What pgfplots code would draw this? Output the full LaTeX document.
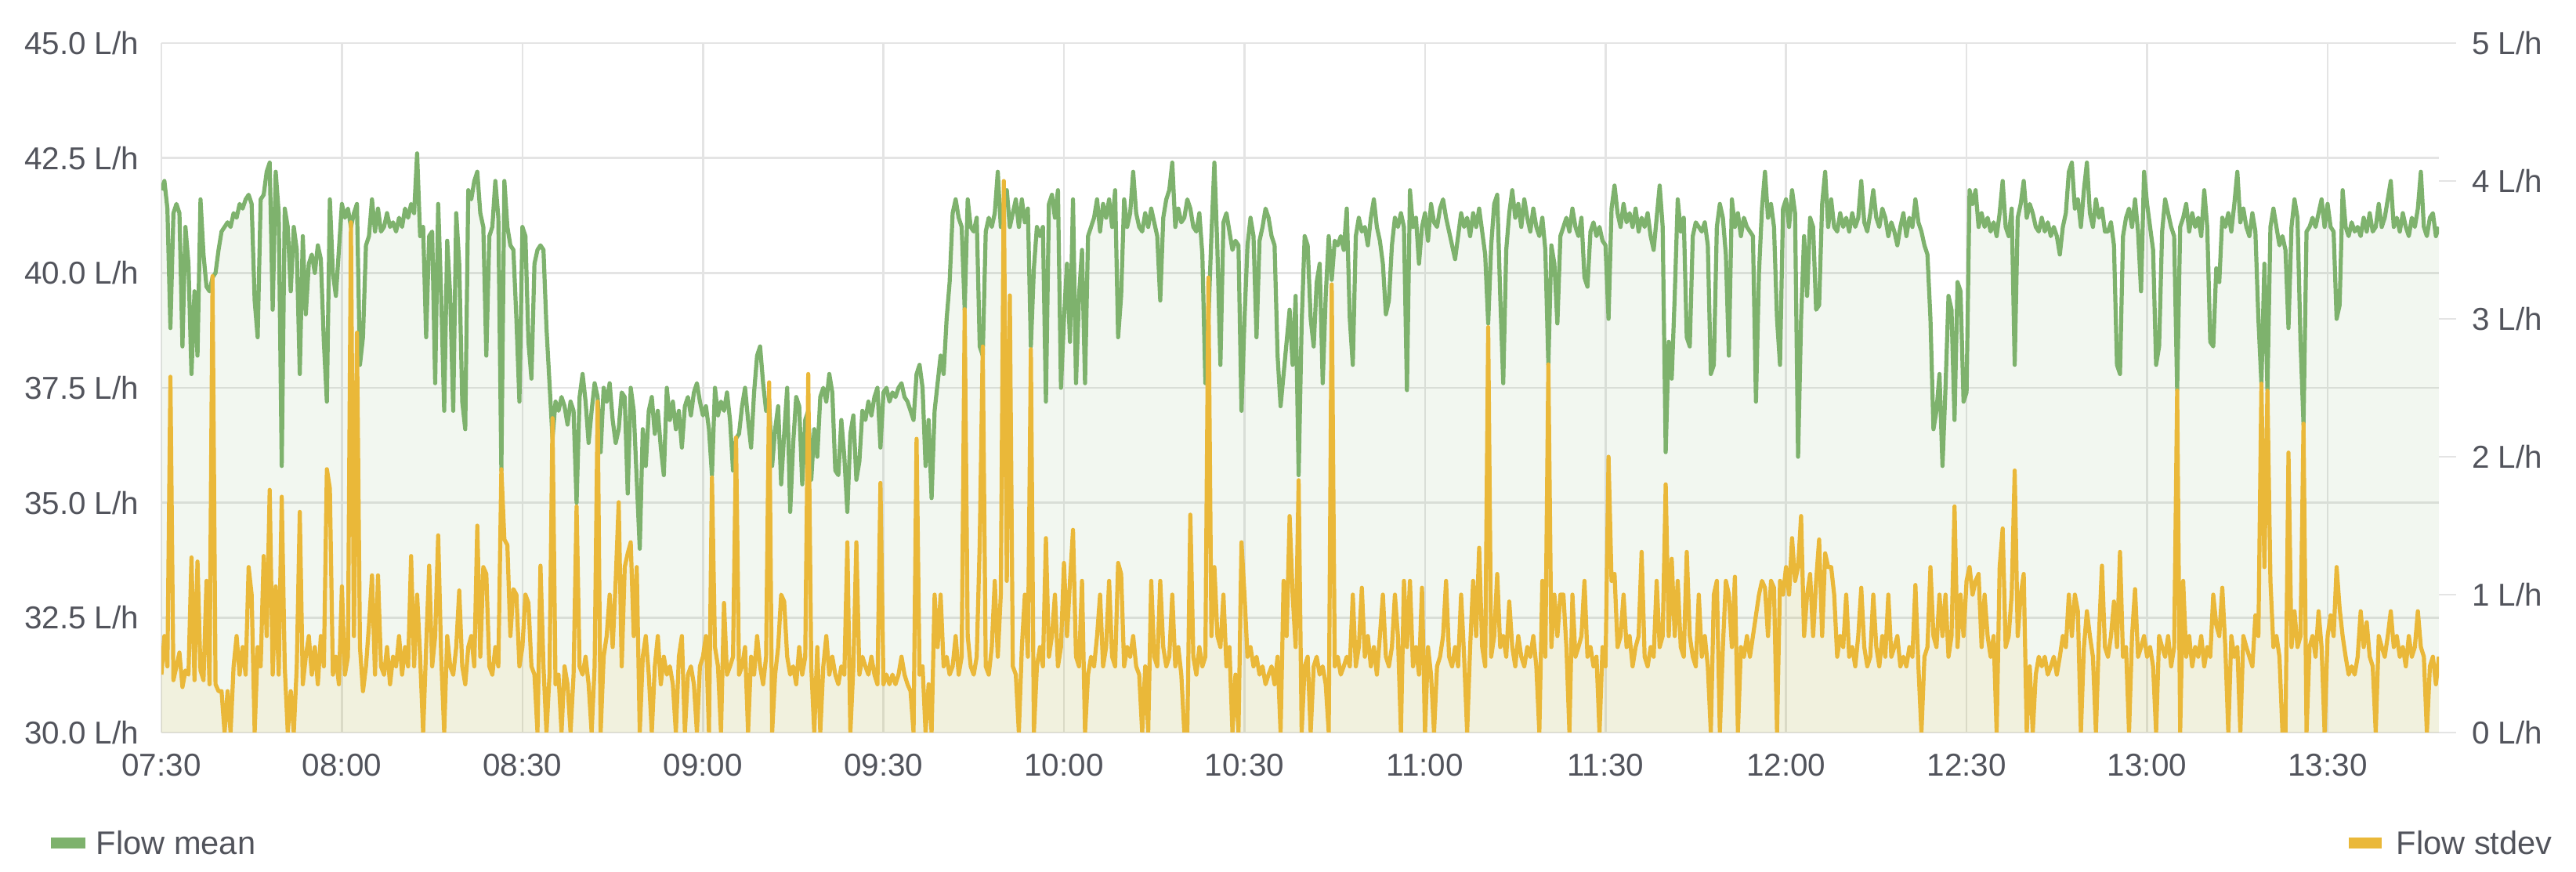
\documentclass[border=0pt]{standalone}
\usepackage{pgfplots}
\pgfplotsset{compat=1.18}
\usepackage{pgfplotstable}
\usepackage{fontspec}
\setmainfont{Liberation Sans}
\definecolor{gmean}{HTML}{7EB26D}
\definecolor{gsd}{HTML}{EAB839}
\definecolor{txt}{HTML}{52545C}
\definecolor{grd}{HTML}{E4E4E4}
\newcommand\lbl{\fontsize{10.1bp}{12bp}\selectfont}
\newcommand\lgd{\fontsize{10.4bp}{12bp}\selectfont}
\pgfplotstableread{
t m s
0 41.8 0.42
0.5 42.0 0.7
1 41.4 0.48
1.5 38.8 2.58
2 41.3 0.38
2.5 41.5 0.48
3 41.3 0.58
3.5 38.4 0.33
4 41.0 0.45
4.5 40.2 0.42
5 37.8 1.27
5.5 39.6 0.38
6 38.2 1.24
6.5 41.6 0.45
7 40.4 0.38
7.5 39.7 1.1
8 39.6 0.35
8.5 39.9 3.31
9 40.0 0.35
9.5 40.5 0.3
10 40.9 0.3
10.5 41.0 0
11 41.1 0.3
11.5 41.0 0
12 41.3 0.48
12.5 41.2 0.7
13 41.5 0.42
13.5 41.4 0.62
14 41.6 0.42
14.5 41.7 1.2
15 41.5 1.0
15.5 39.4 0
16 38.6 0.62
16.5 41.6 0.48
17 41.7 1.28
17.5 42.2 0.7
18 42.4 1.76
18.5 39.2 0.42
19 42.2 1.06
19.5 41.3 0.42
20 35.8 1.71
20.5 41.4 0.48
21 41.0 0
21.5 39.6 0.3
22 41.0 0
22.5 40.5 0.48
23 37.8 1.6
23.5 40.8 0.35
24 39.1 0.55
24.5 40.2 0.7
25 40.4 0.42
25.5 40.0 0.62
26 40.6 0.35
26.5 40.3 0.7
27 38.5 0.48
27.5 37.2 1.91
28 41.6 1.77
28.5 40.0 0.42
29 39.5 0.55
29.5 40.5 0.35
30 41.5 1.06
30.5 41.2 0.42
31 41.4 0.55
31.5 41.0 3.7
32 41.3 0.7
32.5 41.5 2.9
33 38.0 0.62
33.5 38.6 0.3
34 40.6 0.48
34.5 40.8 0.78
35 41.6 1.14
35.5 40.9 0.42
36 41.4 1.14
36.5 40.9 0.48
37 41.0 0.42
37.5 41.3 0.62
38 41.0 0.35
38.5 41.1 0.55
39 40.9 0.48
39.5 41.2 0.7
40 41.0 0.42
40.5 41.4 0.62
41 41.2 0.48
41.5 41.5 1.28
42 41.3 0.48
42.5 42.6 1.0
43 40.8 0.55
43.5 41.0 0
44 38.6 0.62
44.5 40.8 1.21
45 40.9 0.48
45.5 37.6 0.7
46 41.5 1.43
46.5 39.5 0.55
47 37.0 0
47.5 40.7 0.7
48 39.5 0.48
48.5 37.0 0.42
49 41.3 0.62
49.5 40.2 1.03
50 37.2 0.48
50.5 36.6 0.35
51 41.8 0.62
51.5 41.6 0.7
52 42.0 0.48
52.5 42.2 1.5
53 41.3 0.55
53.5 41.0 1.2
54 38.2 1.15
54.5 40.8 0.48
55 41.0 0.42
55.5 42.0 0.62
56 41.2 0.48
56.5 35.7 1.91
57 42.0 1.4
57.5 41.0 1.36
58 40.6 0.7
58.5 40.5 1.04
59 39.0 1.0
59.5 37.2 0.48
60 41.0 0.62
60.5 40.8 1.0
61 38.5 0.94
61.5 37.7 0.48
62 40.2 0.42
62.5 40.5 0
63 40.6 1.21
63.5 40.5 0.48
64 38.8 0
64.5 37.6 0.42
65 36.4 2.28
65.5 37.2 0.35
66 37.0 0.42
66.5 37.3 0
67 37.1 0.48
67.5 36.7 0.35
68 37.2 0
68.5 37.0 0.42
69 35.0 1.64
69.5 37.3 0.48
70 37.8 0.42
70.5 37.2 0.55
71 36.3 0.35
71.5 37.0 0
72 37.6 0.48
72.5 37.3 2.4
73 36.1 0
73.5 37.5 0.55
74 37.2 0.7
74.5 37.6 1.0
75 36.8 0.62
75.5 36.3 1.1
76 36.6 1.67
76.5 37.4 0.48
77 37.3 1.2
77.5 35.2 1.3
78 37.5 1.38
78.5 37.0 0.7
79 35.5 1.2
79.5 34.0 0
80 36.6 0.55
80.5 35.8 0.7
81 37.0 0.42
81.5 37.3 0
82 36.5 0.48
82.5 37.0 0.7
83 36.2 0.35
83.5 35.6 0.55
84 37.5 0.42
84.5 36.8 0.48
85 37.2 0.35
85.5 36.6 0
86 37.0 0.55
86.5 36.2 0.7
87 37.1 0
87.5 37.3 0.42
88 36.9 0.48
88.5 37.4 0.35
89 37.6 0
89.5 37.2 0.48
90 36.9 0.55
90.5 37.1 0.7
91 36.6 0
91.5 35.6 1.85
92 37.5 0.62
92.5 36.9 0.48
93 37.2 0
93.5 37.0 0.94
94 37.4 0.42
94.5 36.8 0.48
95 35.7 0.55
95.5 36.4 2.14
96 36.5 0.42
96.5 37.1 0.48
97 37.5 0.62
97.5 36.8 0
98 36.2 0.55
98.5 37.4 0.42
99 38.2 0.7
99.5 38.4 0.48
100 37.6 0.35
100.5 37.0 0.55
101 37.2 2.54
101.5 35.8 0
102 36.6 0.42
102.5 37.1 0.62
103 35.4 1.0
103.5 36.5 0.95
104 37.5 0.55
104.5 34.8 0.42
105 36.3 0.48
105.5 37.3 0.35
106 37.1 0.62
106.5 35.4 0.42
107 36.8 0.55
107.5 37.0 2.6
108 35.5 0.48
108.5 36.6 0
109 36.0 0.62
109.5 37.3 0
110 37.5 0.48
110.5 37.2 0.7
111 37.8 0.42
111.5 37.4 0.55
112 35.7 0.42
112.5 35.6 0.35
113 36.8 0.48
113.5 36.0 0.42
114 34.8 1.38
114.5 36.5 0
115 36.9 0.48
115.5 35.5 1.38
116 35.9 0.42
116.5 37.0 0.55
117 36.8 0.48
117.5 37.2 0.42
118 36.9 0.55
118.5 37.3 0.42
119 37.5 0.35
119.5 36.2 1.81
120 37.4 0.35
120.5 37.5 0.42
121 37.2 0.35
121.5 37.4 0.42
122 37.3 0.35
122.5 37.5 0.42
123 37.6 0.55
123.5 37.3 0.42
124 37.2 0.35
124.5 37.0 0.3
125 36.8 0
125.5 37.8 2.13
126 38.0 0.42
126.5 37.5 0.48
127 35.8 0
127.5 36.8 0.35
128 35.1 0
128.5 37.0 1.0
129 37.6 0.62
129.5 38.2 1.0
130 37.8 0.48
130.5 39.0 0.55
131 39.8 0.42
131.5 41.3 0.48
132 41.6 0.7
132.5 41.2 0.42
133 41.0 0.55
133.5 39.2 3.07
134 41.6 0.7
134.5 41.0 0.48
135 40.9 0.42
135.5 41.2 0.55
136 38.4 1.38
136.5 38.2 2.8
137 40.9 0.48
137.5 41.2 0.42
138 41.0 0.62
138.5 41.3 1.1
139 42.2 0.55
139.5 41.0 1.0
140 41.5 4.0
140.5 41.8 1.1
141 41.0 3.17
141.5 41.3 0.48
142 41.6 0.42
142.5 41.0 0
143 41.6 0.62
143.5 41.1 1.0
144 41.4 0.55
144.5 38.4 2.78
145 40.1 0
145.5 41.0 0.48
146 40.8 0.62
146.5 41.0 0.48
147 37.2 1.41
147.5 41.5 0.55
148 41.7 0.7
148.5 41.2 1.0
149 41.8 0.48
149.5 37.5 0.62
150 39.0 1.23
150.5 40.2 0.7
151 38.5 1.1
151.5 41.6 1.47
152 37.6 0.55
152.5 39.5 0.48
153 40.5 1.1
153.5 37.6 0
154 40.8 0.42
154.5 41.0 0.55
155 41.2 0.48
155.5 41.6 0.7
156 40.9 1.0
156.5 41.5 0.48
157 41.2 0.62
157.5 41.6 1.1
158 41.0 0.55
158.5 41.8 0.48
159 38.6 1.23
159.5 39.5 1.15
160 41.6 0.48
160.5 41.0 0.62
161 41.3 0.55
161.5 42.2 0.7
162 41.3 0.48
162.5 41.0 0.42
163 40.9 0
163.5 41.3 0.48
164 41.0 0
164.5 41.4 1.1
165 41.1 0.55
165.5 40.8 0.48
166 39.4 1.1
166.5 41.2 0.62
167 41.6 0.48
167.5 41.8 0.55
168 42.4 1.0
168.5 41.0 0.48
169 41.4 0.62
169.5 41.1 0.42
170 41.2 0
170.5 41.6 0
171 41.4 1.58
171.5 41.0 0.55
172 40.9 0.42
172.5 41.3 0.62
173 40.4 0.48
173.5 37.6 0.55
174 39.0 3.3
174.5 40.8 0.7
175 42.4 1.2
175.5 40.5 0.7
176 38.0 0.62
176.5 41.1 1.0
177 41.3 0.48
177.5 40.9 0.62
178 40.5 0
178.5 40.7 0.42
179 40.6 0
179.5 37.0 1.38
180 39.0 1.0
180.5 40.6 0.55
181 41.2 0.62
181.5 40.8 0.48
182 38.6 0.55
182.5 40.7 0.42
183 41.0 0.48
183.5 41.4 0.35
184 41.2 0.42
184.5 40.8 0.48
185 40.6 0.35
185.5 38.2 0.55
186 37.1 0
186.5 37.8 1.1
187 38.5 0.7
187.5 39.2 1.57
188 38.0 1.0
188.5 39.5 0.62
189 35.6 1.83
189.5 38.9 0
190 40.8 0.48
190.5 40.6 0.55
191 39.0 0
191.5 38.4 0.48
192 39.8 0.55
192.5 40.2 0.42
193 37.6 0.48
193.5 39.5 0.35
194 40.8 0
194.5 39.85 3.25
195 40.7 0.48
195.5 40.6 0.55
196 40.8 0.42
196.5 40.5 0.48
197 41.4 0.55
197.5 39.0 0.48
198 38.0 1.0
198.5 40.8 0.48
199 41.2 0.62
199.5 40.9 1.05
200 41.0 0.55
200.5 40.6 0.7
201 41.2 0.48
201.5 41.6 0.62
202 41.0 0.42
202.5 40.7 0.7
203 40.2 1.0
203.5 39.1 0.55
204 39.4 0.48
204.5 40.6 0.62
205 41.2 1.0
205.5 41.0 0.7
206 41.3 0
206.5 41.0 1.1
207 37.45 0.62
207.5 41.8 1.1
208 41.0 0.48
208.5 41.2 0.62
209 40.2 0.42
209.5 41.0 1.05
210 41.3 0
210.5 40.7 0.62
211 41.5 0.42
211.5 41.1 0
212 41.0 0.48
212.5 41.4 0.55
213 41.6 0.7
213.5 41.2 1.1
214 40.9 0.55
214.5 40.6 0.48
215 40.3 0.62
215.5 40.8 0.48
216 41.3 1.0
216.5 41.0 0.55
217 41.2 0
217.5 40.8 0.62
218 41.3 1.1
218.5 41.0 0.7
219 41.4 1.34
219.5 40.9 0.62
220 40.4 0.48
220.5 38.9 2.94
221 40.6 0.55
221.5 41.5 0.7
222 41.7 1.15
222.5 39.5 0.62
223 37.6 0.7
223.5 40.5 0.55
224 41.3 0.95
224.5 41.8 0.62
225 41.2 0.48
225.5 41.5 0.7
226 41.0 0.55
226.5 41.6 0.48
227 41.2 0.62
227.5 40.9 0.55
228 41.4 0.7
228.5 41.0 0.48
229 40.8 0
229.5 41.2 1.1
230 40.5 0.55
230.5 38.0 2.67
231 40.6 0.62
231.5 40.2 1.0
232 38.9 0.7
232.5 40.8 1.0
233 41.0 1.0
233.5 41.2 0.62
234 40.9 0
234.5 41.4 1.0
235 41.0 0.55
235.5 40.8 0.62
236 41.2 0.7
236.5 39.9 1.1
237 39.7 0.55
237.5 40.9 0.62
238 41.1 0.48
238.5 40.8 0.55
239 41.0 0
239.5 40.7 0.62
240 40.6 0.48
240.5 39.0 2.0
241 41.4 1.1
241.5 41.9 1.15
242 41.3 0.62
242.5 41.0 0.7
243 41.5 1.0
243.5 41.1 0.62
244 41.3 0.7
244.5 41.0 0.48
245 41.4 0.62
245.5 40.9 0.7
246 41.2 1.31
246.5 41.0 0.55
247 41.3 0.48
247.5 40.8 0.62
248 40.5 0.55
248.5 41.2 1.1
249 41.9 0.62
249.5 41.0 0.7
250 36.1 1.8
250.5 38.5 0.7
251 37.7 1.26
251.5 39.5 0.7
252 41.6 1.1
252.5 40.9 0.62
253 41.2 0.55
253.5 38.6 1.31
254 38.4 0.7
254.5 40.8 0.55
255 41.1 0.48
255.5 41.0 1.0
256 40.9 0.55
256.5 41.1 0.7
257 40.6 0.48
257.5 37.8 0
258 38.0 1.0
258.5 41.0 1.1
259 41.5 0
259.5 41.2 0.62
260 40.4 1.1
260.5 38.2 1.0
261 41.6 0.62
261.5 41.0 1.13
262 41.3 0
262.5 40.8 0.62
263 41.2 0.55
263.5 41.0 0.7
264 40.9 0.55
264.5 40.8 0.7
265 37.2 0.85
265.5 40.0 1.0
266 41.4 1.1
266.5 42.2 1.05
267 41.2 0.7
267.5 41.5 1.1
268 41.0 1.05
268.5 39.0 0
269 38.0 1.1
269.5 41.4 1.0
270 41.6 1.2
270.5 41.0 1.0
271 41.8 1.41
271.5 41.3 1.1
272 36.0 1.2
272.5 39.0 1.57
273 40.8 0.7
273.5 39.5 1.0
274 41.2 1.15
274.5 41.0 0.7
275 39.2 1.1
275.5 39.3 1.4
276 41.5 0.7
276.5 42.2 1.3
277 41.0 1.2
277.5 41.6 1.2
278 41.0 1.0
278.5 40.9 0.55
279 41.3 0.7
279.5 41.0 0.62
280 41.2 1.0
280.5 40.9 0.55
281 41.3 0.62
281.5 41.0 0.48
282 41.2 0.7
282.5 42.0 1.05
283 41.1 0.62
283.5 40.9 0.48
284 41.3 0.55
284.5 41.8 1.0
285 41.2 0.62
285.5 41.0 0.48
286 41.4 0.7
286.5 41.2 0.55
287 40.8 1.0
287.5 41.1 0.55
288 40.9 0.62
288.5 40.6 0.7
289 41.0 0.48
289.5 41.3 0.55
290 40.8 0.48
290.5 41.2 0.62
291 41.0 0.55
291.5 41.6 1.07
292 41.1 0.48
292.5 40.9 0
293 40.6 0.55
293.5 40.4 0.62
294 39.0 1.2
294.5 36.6 0.7
295 37.0 0.62
295.5 37.8 1.0
296 35.8 0.7
296.5 37.5 1.0
297 39.5 0.55
297.5 39.2 0.7
298 36.8 1.64
298.5 39.8 0.62
299 39.6 1.0
299.5 37.2 0.7
300 37.4 1.1
300.5 41.8 1.2
301 41.5 1.0
301.5 41.8 1.1
302 41.0 1.15
302.5 41.3 0.62
303 41.0 1.0
303.5 41.2 0.7
304 40.9 0.55
304.5 41.1 0.7
305 40.8 0
305.5 41.3 1.2
306 42.0 1.48
306.5 41.0 0.62
307 40.8 0.7
307.5 41.4 1.0
308 38.0 1.9
308.5 41.2 0.7
309 41.5 1.0
309.5 42.0 1.15
310 41.2 0
310.5 41.5 0.48
311 41.3 0
311.5 41.0 0.42
312 40.9 0.55
312.5 41.2 0.48
313 40.9 0.55
313.5 41.1 0.42
314 40.8 0.48
314.5 41.0 0.55
315 40.8 0.42
315.5 40.4 0.55
316 41.0 0.7
316.5 41.3 0.62
317 42.2 1.0
317.5 42.4 0.7
318 41.4 1.0
318.5 41.6 0.88
319 41.0 0
319.5 41.8 0.62
320 42.4 0.88
320.5 41.3 0.7
321 41.0 0.55
321.5 41.6 0
322 41.2 0.7
322.5 41.4 1.21
323 40.9 0.62
323.5 40.9 0.55
324 41.1 0.7
324.5 40.6 0.95
325 38.0 0.62
325.5 37.8 1.31
326 40.8 0.55
326.5 41.2 0.62
327 41.4 0
327.5 41.0 0.7
328 41.6 1.04
328.5 40.9 0.55
329 39.6 0.62
329.5 42.2 0.7
330 41.5 0.55
330.5 41.0 0.62
331 40.5 0.48
331.5 38.0 0
332 38.4 0.7
332.5 40.9 0.62
333 41.6 0.55
333.5 41.3 0.7
334 41.0 0.48
334.5 40.8 0.62
335 37.45 2.48
335.5 41.0 0
336 41.2 1.1
336.5 41.5 0.55
337 40.9 0.7
337.5 41.3 0.48
338 41.0 0.62
338.5 41.2 0.55
339 40.8 0.7
339.5 41.8 0.48
340 41.0 0.62
340.5 38.5 0.55
341 38.4 1.0
341.5 40.1 0.78
342 39.8 0.7
342.5 41.2 1.05
343 41.0 0.62
343.5 41.3 0
344 40.9 0.7
344.5 41.5 0.55
345 42.2 0.62
345.5 41.1 0
346 41.4 0.7
346.5 41.0 0.62
347 40.8 0.55
347.5 41.3 0.48
348 40.9 0.85
348.5 39.0 0.7
349 37.6 2.53
349.5 40.2 1.2
350 37.45 2.48
350.5 41.0 1.1
351 41.4 0.62
351.5 41.0 0.7
352 40.6 0.55
352.5 40.8 0
353 40.5 0
353.5 38.8 2.03
354 41.0 0.62
354.5 41.6 0.88
355 41.2 0.62
355.5 38.5 0.7
356 36.7 2.24
356.5 40.9 0
357 41.0 0.62
357.5 41.2 0.7
358 41.0 0.55
358.5 41.3 0.88
359 41.6 0.62
359.5 41.0 0
360 41.5 0.7
360.5 41.0 0.85
361 40.9 0.7
361.5 39.0 1.2
362 39.3 0.9
362.5 41.8 0.7
363 41.0 0.55
363.5 40.8 0.42
364 41.1 0.48
364.5 40.9 0.42
365 41.0 0.55
365.5 40.8 0.88
366 41.2 0.62
366.5 40.9 0.8
367 41.3 0.55
367.5 40.9 0.48
368 41.0 0
368.5 41.5 0.7
369 41.0 0.62
369.5 41.2 0.55
370 41.6 0.7
370.5 42.0 0.88
371 41.0 0.62
371.5 41.2 0.7
372 40.9 0.55
372.5 41.3 0.62
373 41.0 0.48
373.5 40.8 0.7
374 41.2 0.55
374.5 41.0 0.62
375 41.4 0.88
375.5 42.2 0.62
376 41.0 0.55
376.5 40.8 0
377 41.2 0.48
377.5 41.3 0.55
378 40.8 0.35
378.5 41.0 0.55
}\flow

\begin{document}
\begin{tikzpicture}
\useasboundingbox (-51.5bp,-44.5bp) rectangle (770.5bp,233.75bp);
\begin{axis}[
  at={(0bp,0bp)}, anchor=south west,
  width=726.75bp, height=220bp, scale only axis,
  xmin=0, xmax=378.5, ymin=30, ymax=45,
  xtick={0,30,...,360},
  xticklabels={07:30,08:00,08:30,09:00,09:30,10:00,10:30,11:00,11:30,12:00,12:30,13:00,13:30},
  ytick={30,32.5,35,37.5,40,42.5,45},
  yticklabels={30.0 L/h,32.5 L/h,35.0 L/h,37.5 L/h,40.0 L/h,42.5 L/h,45.0 L/h},
  grid=major, grid style={draw=grd, line width=0.65bp},
  axis line style={draw=none},
  major tick length=0pt,
  tick label style={font=\lbl, text=txt},
  xticklabel style={yshift=-3.4bp},
  yticklabel style={xshift=-3.7bp},
]
\addplot[draw=none, fill=gmean, fill opacity=0.1] table[x=t,y=m]{\flow} \closedcycle;
\addplot[gmean, line width=1.3bp, line join=round] table[x=t,y=m]{\flow};
\end{axis}
\begin{axis}[
  at={(0bp,0bp)}, anchor=south west,
  width=726.75bp, height=220bp, scale only axis,
  xmin=0, xmax=378.5, ymin=0, ymax=5,
  axis x line=none, axis y line*=right,
  axis line style={draw=none},
  ytick={0,1,2,3,4,5},
  yticklabels={0 L/h,1 L/h,2 L/h,3 L/h,4 L/h,5 L/h},
  tick align=outside, major tick length=5.5bp,
  ytick style={draw=grd, line width=0.65bp},
  tick label style={font=\lbl, text=txt},
  yticklabel style={xshift=1.5bp},
]
\addplot[draw=none, fill=gsd, fill opacity=0.1] table[x=t,y=s]{\flow} \closedcycle;
\addplot[gsd, line width=1.3bp, line join=round] table[x=t,y=s]{\flow};
\end{axis}
\draw[gmean, line width=3.3bp] (-35.25bp,-35.25bp) -- (-24.25bp,-35.25bp);
\node[anchor=west, text=txt, font=\lgd, inner sep=0pt] at (-21bp,-35.25bp) {Flow mean};
\draw[gsd, line width=3.3bp] (698bp,-35.25bp) -- (708.5bp,-35.25bp);
\node[anchor=west, text=txt, font=\lgd, inner sep=0pt] at (713bp,-35.25bp) {Flow stdev};
\end{tikzpicture}
\end{document}
